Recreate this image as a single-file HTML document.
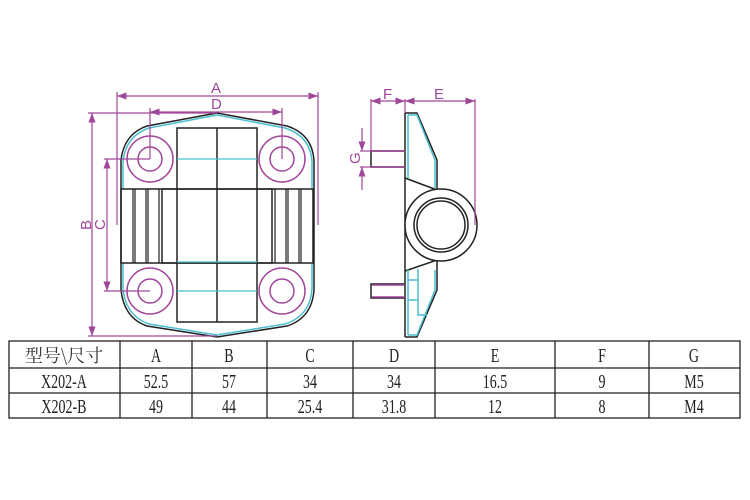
<!DOCTYPE html>
<html><head><meta charset="utf-8"><style>
body{margin:0;background:#fff;width:750px;height:500px;overflow:hidden;position:relative}
svg{position:absolute;left:0;top:0}
</style></head><body>
<svg width="750" height="500" viewBox="0 0 750 500" xmlns="http://www.w3.org/2000/svg">
<defs>
<marker id="ar" markerWidth="8" markerHeight="6" refX="8" refY="3" orient="auto-start-reverse"><path d="M0,0 L8,3 L0,6" fill="#a0479a"/></marker>
</defs>
<g fill="none" stroke-width="1.5">
<path d="M217,113 L147,126 Q124,134 121,160 L121,189 L121,263 L121,290 Q124,318 147,326 L217,337 L287,326 Q312,318 314,290 L314,160 Q312,134 287,126 Z" stroke="#222"/>
<path d="M217,115 L149,128 Q126,136 123,161 L123,189 M123,263 L123,289 Q126,316 149,324 L217,335 L285,324 Q310,316 312,289 L312,263 M312,189 L312,161 Q310,136 285,128 L217,115" stroke="#4bbfcf"/>
<rect x="177" y="128" width="80" height="194" stroke="#222"/>
<line x1="217" y1="128" x2="217" y2="322" stroke="#222"/>
<rect x="121" y="189" width="192" height="74" stroke="#222"/>
<rect x="162" y="189" width="110" height="74" stroke="#222"/>
<g stroke="#222" stroke-width="1.2">
<line x1="133" y1="189" x2="133" y2="263"/><line x1="135" y1="189" x2="135" y2="263"/>
<line x1="146" y1="189" x2="146" y2="263"/><line x1="148" y1="189" x2="148" y2="263"/>
<line x1="159" y1="189" x2="159" y2="263"/>
<line x1="275" y1="189" x2="275" y2="263"/>
<line x1="286" y1="189" x2="286" y2="263"/><line x1="288" y1="189" x2="288" y2="263"/>
<line x1="299" y1="189" x2="299" y2="263"/><line x1="301" y1="189" x2="301" y2="263"/>
</g>
<g stroke="#4bbfcf" stroke-width="1.2">
<line x1="177" y1="159" x2="257" y2="159"/><line x1="177" y1="262" x2="257" y2="262"/><line x1="177" y1="291" x2="257" y2="291"/>
</g>
<g stroke="#a0479a">
<circle cx="150" cy="159" r="23"/><circle cx="150" cy="159" r="12"/>
<circle cx="282" cy="159" r="23"/><circle cx="282" cy="159" r="12"/>
<circle cx="150" cy="291" r="23"/><circle cx="150" cy="291" r="12"/>
<circle cx="282" cy="291" r="23"/><circle cx="282" cy="291" r="12"/>
</g>
<g stroke="#a0479a" stroke-width="1.2">
<line x1="117" y1="96" x2="318" y2="96" marker-start="url(#ar)" marker-end="url(#ar)"/>
<line x1="117" y1="92" x2="117" y2="225"/><line x1="318" y1="92" x2="318" y2="225"/>
<line x1="150" y1="112" x2="282" y2="112" marker-start="url(#ar)" marker-end="url(#ar)"/>
<line x1="150" y1="108" x2="150" y2="159"/><line x1="282" y1="108" x2="282" y2="159"/>
<line x1="92" y1="113" x2="92" y2="336" marker-start="url(#ar)" marker-end="url(#ar)"/>
<line x1="88" y1="113" x2="217" y2="113"/><line x1="88" y1="336" x2="217" y2="336"/>
<line x1="107" y1="159" x2="107" y2="291" marker-start="url(#ar)" marker-end="url(#ar)"/>
<line x1="104" y1="159" x2="150" y2="159"/><line x1="104" y1="291" x2="150" y2="291"/>
</g>
<line x1="405" y1="113" x2="405" y2="337" stroke="#222"/>
<path d="M405,113 L417,113 L437,160 L437,190 L405,178" stroke="#222"/>
<path d="M408,115 L417,115 L435,160 L435,188 M408,115 L408,178" stroke="#4bbfcf"/>
<path d="M405,337 L417,337 L437,290 L437,260 L405,271" stroke="#222"/>
<path d="M408,335 L417,335 L435,290 L435,270 M408,270 L408,335 M418,269 L418,315 L427,315 M408,280 L418,280 M408,300 L418,300" stroke="#4bbfcf"/>
<circle cx="441" cy="225" r="36" stroke="#222" fill="#fff"/>
<circle cx="441" cy="225" r="27" stroke="#222"/>
<circle cx="441" cy="225" r="24" stroke="#222"/>
<path d="M405,151 L371,151 L371,167 L405,167" stroke="#222"/>
<path d="M405,151 L371,151 M371,167 L405,167" stroke="#a0479a"/>
<path d="M405,284 L371,284 L371,298 L405,298" stroke="#222"/>
<path d="M405,285 L372,285 M372,297 L405,297" stroke="#a0479a"/>
<g stroke="#a0479a" stroke-width="1.2">
<line x1="371" y1="101" x2="405" y2="101" marker-start="url(#ar)" marker-end="url(#ar)"/>
<line x1="371" y1="99" x2="371" y2="151"/><line x1="405" y1="99" x2="405" y2="113"/>
<line x1="405" y1="101" x2="475" y2="101" marker-start="url(#ar)" marker-end="url(#ar)"/>
<line x1="475" y1="99" x2="475" y2="225"/>
<line x1="362" y1="128" x2="362" y2="151" marker-end="url(#ar)"/>
<line x1="362" y1="190" x2="362" y2="167" marker-end="url(#ar)"/>
<line x1="360" y1="151" x2="371" y2="151"/><line x1="360" y1="167" x2="371" y2="167"/>
</g>
</g>
<g fill="#a0479a" font-family="Liberation Sans, sans-serif" font-size="15">
<text x="211" y="93">A</text>
<text x="211" y="109">D</text>
<text x="383" y="99">F</text>
<text x="434" y="99">E</text>
<text transform="translate(91,230) rotate(-90)">B</text>
<text transform="translate(105,230) rotate(-90)">C</text>
<text transform="translate(360,164) rotate(-90)">G</text>
</g>
<g stroke="#222" stroke-width="1.3">
<rect x="9" y="341" width="731" height="77" fill="none"/>
<line x1="9" y1="368" x2="740" y2="368"/><line x1="9" y1="393" x2="740" y2="393"/>
<line x1="120" y1="341" x2="120" y2="418"/><line x1="192" y1="341" x2="192" y2="418"/>
<line x1="267" y1="341" x2="267" y2="418"/><line x1="353" y1="341" x2="353" y2="418"/>
<line x1="435" y1="341" x2="435" y2="418"/><line x1="555" y1="341" x2="555" y2="418"/>
<line x1="649" y1="341" x2="649" y2="418"/>
</g>
<text x="64" y="362" font-family="'Noto Serif CJK SC', serif" font-size="18" fill="#333" text-anchor="middle">型号\尺寸</text>
<g transform="scale(0.7,1)" font-family="Liberation Serif, serif" font-size="20" fill="#222" text-anchor="middle">
<text x="222.9" y="362">A</text><text x="327.1" y="362">B</text><text x="442.9" y="362">C</text><text x="562.9" y="362">D</text><text x="707.1" y="362">E</text><text x="860" y="362">F</text><text x="991.4" y="362">G</text>
<text x="91.4" y="388">X202-A</text><text x="222.9" y="388">52.5</text><text x="327.1" y="388">57</text><text x="442.9" y="388">34</text><text x="562.9" y="388">34</text><text x="707.1" y="388">16.5</text><text x="860" y="388">9</text><text x="991.4" y="388">M5</text>
<text x="91.4" y="413">X202-B</text><text x="222.9" y="413">49</text><text x="327.1" y="413">44</text><text x="442.9" y="413">25.4</text><text x="562.9" y="413">31.8</text><text x="707.1" y="413">12</text><text x="860" y="413">8</text><text x="991.4" y="413">M4</text>
</g>
</svg>
</body></html>
